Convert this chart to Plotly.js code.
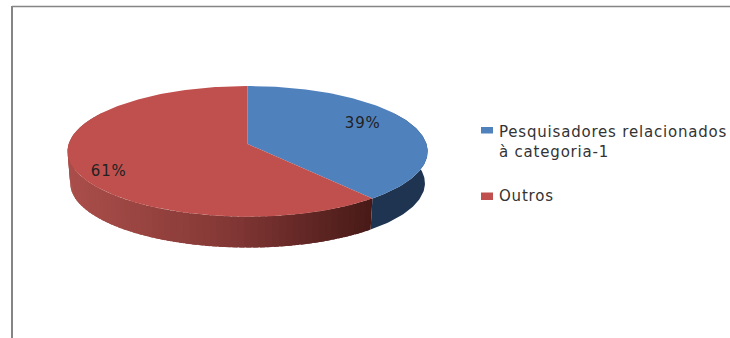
<!DOCTYPE html>
<html>
<head>
<meta charset="utf-8">
<script src="https://cdn.plot.ly/plotly-3.0.1.min.js"></script>
<style>
html,body{margin:0;padding:0;background:#fff}
#chart{width:730px;height:338px}
#chart .annotation-text{letter-spacing:0.8px}
</style>
</head>
<body>
<div id="chart"></div>
<script>
// Share of researchers per group
const categories = ['Pesquisadores relacionados<br>à categoria-1', 'Outros'];
const shares = [39, 61];
const topColors = ['#4f81bd', '#c0504d'];

// Side-wall colour stops, left to right across the disc
const redWallStops = [[170, 78, 74], [132, 56, 54], [70, 25, 22]];
const blueWall = 'rgb(30,52,80)';

const fontFamily = '"DejaVu Sans", sans-serif';
const labelColor = '#222';
const keyColor = '#333';

// Disc projection: pivot, half-axes, perspective strength and wall offset
const pivot = {x: 247.6, y: 144};
const spreadX = 178.9, spreadY = 64.5, persp = 0.1125;
const wallDepth = 32, wallScale = 0.985;

function project(angleDeg, radius) {
  const a = angleDeg * Math.PI / 180;
  const X = radius * Math.sin(a), Y = radius * Math.cos(a);
  const d = 1 + persp * Y;
  return [spreadX * X / d, -spreadY * Y / d];
}
const topRim = a => { const p = project(a, 1); return [pivot.x + p[0], pivot.y + p[1]]; };
const baseRim = a => {
  const p = project(a, 1);
  return [pivot.x + wallScale * p[0], pivot.y + wallDepth + wallScale * p[1]];
};

function redWallColor(x) {
  const t = Math.min(1, Math.max(0, (x - 68) / (372 - 68))) * (redWallStops.length - 1);
  const i = Math.min(redWallStops.length - 2, Math.floor(t)), f = t - i;
  const c = redWallStops[i].map((v, k) => Math.round(v + (redWallStops[i + 1][k] - v) * f));
  return `rgb(${c.join(',')})`;
}

const total = shares.reduce((s, v) => s + v, 0);
const sweep = shares.map(v => v / total * 360);
const edges = [0, sweep[0], 360];

const traces = [];
function polygon(points, color, name) {
  traces.push({
    type: 'scatter', mode: 'lines', fill: 'toself', fillcolor: color,
    x: points.map(p => p[0]), y: points.map(p => p[1]),
    line: {color: color, width: 0}, hoverinfo: 'skip', showlegend: false, name: name
  });
}

// Blue wall: one flat band along the front of its slice
const blueFront = [];
for (let a = 60; a < edges[1]; a += 1) blueFront.push(a);
blueFront.push(edges[1]);
polygon(blueFront.map(topRim).concat(blueFront.slice().reverse().map(baseRim)), blueWall, 'wall');

// Red wall: shaded bands, each one overlapping the band before it
const bandStep = 2, bandOverlap = 1.5;
for (let a = edges[1]; a < 300; a += bandStep) {
  const from = Math.max(edges[1], a - bandOverlap), to = a + bandStep;
  const mid = topRim(a + bandStep / 2);
  polygon([topRim(from), topRim(a), topRim(to), baseRim(to), baseRim(a), baseRim(from)],
    redWallColor(mid[0]), 'wall');
}

// Top face slices
for (let s = 0; s < 2; s++) {
  const pts = [[pivot.x, pivot.y]];
  for (let a = edges[s]; a < edges[s + 1]; a += 1) pts.push(topRim(a));
  pts.push(topRim(edges[s + 1]));
  pts.push([pivot.x, pivot.y]);
  polygon(pts, topColors[s], categories[s]);
}

// Percent labels and key: swatch left/top/bottom, then text left/top
const labelSpots = [[362, 123], [108, 171]];
const swatchSpots = [[481, 127, 133.5], [481, 192.5, 200]];
const keyTextSpots = [[498, 121.5], [498, 186]];
const swatchWidth = 12;

const annotations = shares.map((v, i) => ({
  x: labelSpots[i][0], y: labelSpots[i][1], xref: 'x', yref: 'y',
  text: v + '%', showarrow: false, xanchor: 'center', yanchor: 'middle',
  font: {family: fontFamily, size: 15, color: labelColor}
})).concat(categories.map((c, i) => ({
  x: keyTextSpots[i][0], y: keyTextSpots[i][1], xref: 'x', yref: 'y',
  text: c, showarrow: false, xanchor: 'left', yanchor: 'top', align: 'left',
  borderpad: 0, font: {family: fontFamily, size: 15, color: keyColor}
})));

const shapes = categories.map((c, i) => ({
  type: 'rect', xref: 'x', yref: 'y', layer: 'above',
  x0: swatchSpots[i][0], x1: swatchSpots[i][0] + swatchWidth,
  y0: swatchSpots[i][1], y1: swatchSpots[i][2],
  fillcolor: topColors[i], line: {width: 0}
})).concat([
  {type: 'line', xref: 'x', yref: 'y', x0: 12, x1: 730, y0: 6.5, y1: 6.5, line: {color: '#858585', width: 1.5}},
  {type: 'line', xref: 'x', yref: 'y', x0: 12, x1: 12, y0: 6, y1: 338, line: {color: '#858585', width: 2}}
]);

Plotly.newPlot('chart', traces, {
  width: 730, height: 338,
  margin: {l: 0, r: 0, t: 0, b: 0},
  paper_bgcolor: '#fff', plot_bgcolor: '#fff',
  showlegend: false,
  xaxis: {range: [0, 730], visible: false, fixedrange: true},
  yaxis: {range: [338, 0], visible: false, fixedrange: true},
  annotations: annotations, shapes: shapes
}, {displayModeBar: false, staticPlot: true});
</script>
</body>
</html>
